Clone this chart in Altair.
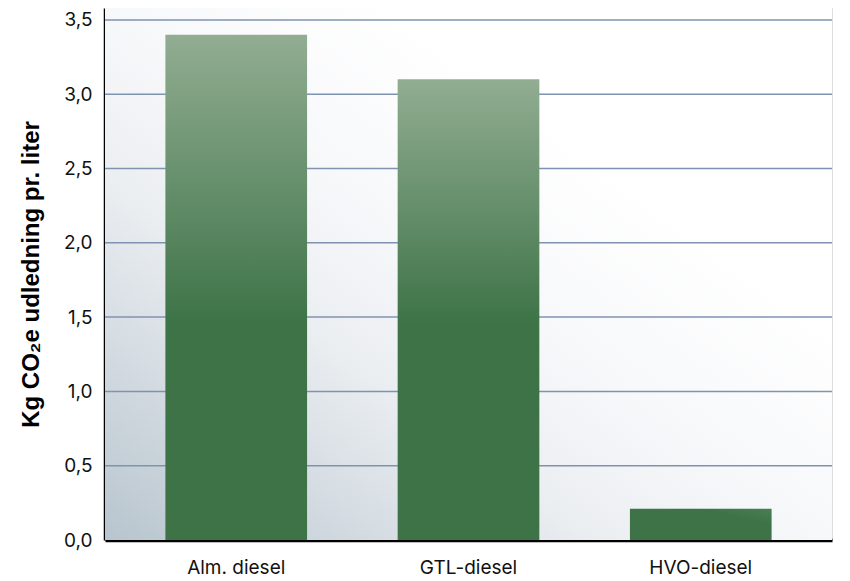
import altair as alt
import pandas as pd

categories = ["Alm. diesel", "GTL-diesel", "HVO-diesel"]
values = [3.4, 3.1, 0.21]
y_ticks = [0, 0.5, 1.0, 1.5, 2.0, 2.5, 3.0, 3.5]
y_title = "Kg CO₂e udledning pr. liter"

df = pd.DataFrame({"fuel": categories, "co2": values})
grid_df = pd.DataFrame({"tick": y_ticks[1:]})

LIGHT = "#92ad92"
DARK = "#3d7347"
DARK_FROM = 1.45  # value below which bars are fully dark

x_enc = alt.X("fuel:N", sort=categories,
              scale=alt.Scale(paddingInner=0.39, paddingOuter=0.26),
              axis=alt.Axis(title=None, labelAngle=0, labelFont="Inter", labelFontSize=19,
                            labelColor="#111111", labelPadding=18, ticks=False,
                            domainColor="#000000", domainWidth=3.5))
y_scale = alt.Scale(domain=[0, 3.58], nice=False, zero=True)
y_enc = alt.Y("co2:Q", scale=y_scale,
              axis=alt.Axis(title=y_title, values=y_ticks,
                            labelExpr="replace(format(datum.value, '.1f'), '.', ',')",
                            labelFont="Inter", labelFontSize=19, labelColor="#111111",
                            labelPadding=13, ticks=False,
                            titleFont="Liberation Sans", titleFontSize=24, titleFontWeight="bold",
                            titleColor="#000000", titlePadding=20,
                            domainColor="#000000", domainWidth=3.5,
                            grid=False))

bg = alt.Chart(pd.DataFrame({"a": [0]})).mark_rect(
    fill=alt.Gradient(gradient="linear", x1=0, y1=1, x2=1, y2=0,
                      stops=[alt.GradientStop(color="#b8c5ce", offset=0),
                             alt.GradientStop(color="#d6dde3", offset=0.2),
                             alt.GradientStop(color="#eceff2", offset=0.35),
                             alt.GradientStop(color="#f7f8fa", offset=0.5),
                             alt.GradientStop(color="#ffffff", offset=0.7)])
).encode(x=alt.value(0), x2=alt.value("width"), y=alt.value(0), y2=alt.value("height"))

grid = alt.Chart(grid_df).mark_rule(color="#7f93b0", strokeWidth=1.5).encode(
    y=alt.Y("tick:Q", scale=y_scale), x=alt.value(0), x2=alt.value("width"))

layers = [bg, grid]
for cat, val in zip(categories, values):
    if val > DARK_FROM:
        off = (val - DARK_FROM) / val
        fill = alt.Gradient(gradient="linear", x1=0, y1=0, x2=0, y2=1,
                            stops=[alt.GradientStop(color=LIGHT, offset=0),
                                   alt.GradientStop(color=DARK, offset=off),
                                   alt.GradientStop(color=DARK, offset=1)])
    else:
        fill = alt.Gradient(gradient="linear", x1=0, y1=1, x2=1, y2=0,
                            stops=[alt.GradientStop(color=DARK, offset=0),
                                   alt.GradientStop(color=DARK, offset=0.75),
                                   alt.GradientStop(color="#4a7f55", offset=1)])
    layers.append(
        alt.Chart(df).transform_filter(alt.datum.fuel == cat)
        .mark_bar(fill=fill).encode(x=x_enc, y=y_enc)
    )

chart = alt.layer(*layers).resolve_axis(y="shared").properties(
    width=727, height=532,
    padding={"left": 11, "top": 0, "right": 0, "bottom": 0},
).configure_view(stroke=None).configure(background="#ffffff")

chart.save("out.html", embed_options={"renderer": "svg", "actions": False})
